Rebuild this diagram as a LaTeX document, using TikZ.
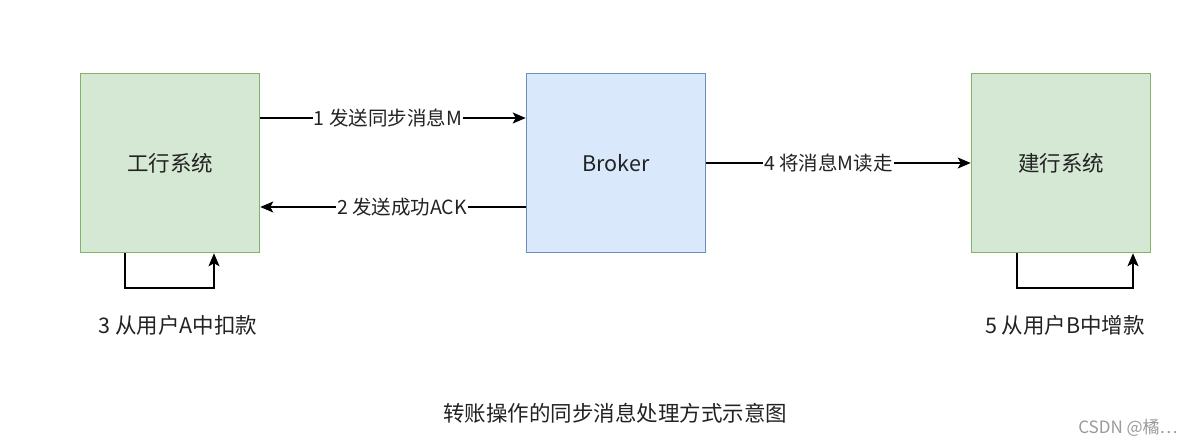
\documentclass[tikz,border=0pt]{standalone}
\usepackage{fontspec}
\setmainfont{Noto Sans CJK SC}
\usetikzlibrary{arrows.meta,positioning}
\definecolor{bankfill}{HTML}{D5E8D4}
\definecolor{bankline}{HTML}{82B366}
\definecolor{brokerfill}{HTML}{DAE8FC}
\definecolor{brokerline}{HTML}{6C8EBF}
\definecolor{inkgray}{HTML}{222222}
\definecolor{markgray}{HTML}{9A9A9A}

\begin{document}
\begin{tikzpicture}[x=1pt, y=-1pt, >={Stealth[length=13pt,width=11pt,inset=3pt]}, line width=1.7pt,
    system/.style={draw=bankline, fill=bankfill, line width=1.5pt,
      minimum width=179pt, minimum height=179pt, inner sep=0pt,
      text=inkgray, font=\fontsize{21.5}{24}\selectfont},
    brokerbox/.style={system, draw=brokerline, fill=brokerfill},
    msg/.style={fill=white, inner sep=1pt, text=inkgray,
      font=\fontsize{19.5}{22}\selectfont},
    note/.style={text=inkgray, font=\fontsize{21.5}{24}\selectfont}]
  \useasboundingbox (0,0) rectangle (1200,446);

  % the three parties
  \node[system]    (icbc)   at (170,163)  {工行系统};
  \node[brokerbox] (broker) at (616,163)  {Broker};
  \node[system]    (ccb)    at (1061,163) {建行系统};

  % message flow
  \draw[->] ([yshift=45pt]icbc.east) -- ([yshift=45pt]broker.west)
     node[midway, msg, xshift=-5pt] {1 发送同步消息M};
  \draw[->] ([yshift=-44pt]broker.west) -- ([yshift=-44pt]icbc.east)
     node[midway, msg, xshift=9pt] {2 发送成功ACK};
  \draw[->] (broker.east) -- (ccb.west)
     node[midway, msg, xshift=-10pt] {4 将消息M读走};

  % local account updates
  \draw[->] ([xshift=-45pt]icbc.south) -- ++(0,35) -| ([xshift=44pt]icbc.south);
  \draw[->] ([xshift=-44pt]ccb.south) -- ++(0,35) -| ([xshift=72pt]ccb.south);

  \node[note] (debit)  at (178,325)  {3 从用户A中扣款};
  \node[note] (credit) at (1065,325) {5 从用户B中增款};

  % caption and watermark
  \node[note] (caption) at (615,413) {转账操作的同步消息处理方式示意图};
  \node[text=markgray, font=\fontsize{17}{19}\selectfont] (mark) at (1128,428) {CSDN @橘⋯};
\end{tikzpicture}
\end{document}
